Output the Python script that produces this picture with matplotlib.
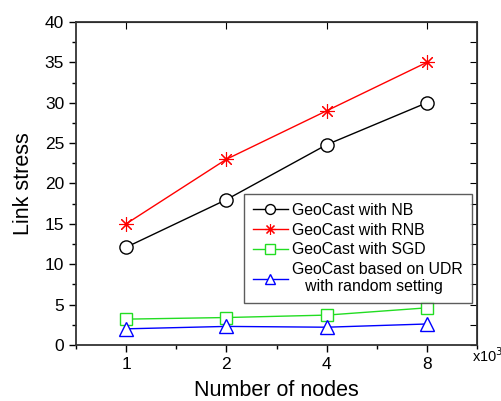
import matplotlib
matplotlib.use('Agg')
import matplotlib.pyplot as plt
from matplotlib.ticker import MultipleLocator

plt.rcParams['font.family'] = ['Liberation Sans', 'DejaVu Sans']

# data
node_labels = ['1', '2', '4', '8']
nb = [12.1, 18.0, 24.8, 30.0]
rnb = [15.0, 23.0, 29.0, 35.0]
sgd = [3.2, 3.4, 3.7, 4.6]
udr = [2.0, 2.3, 2.2, 2.6]

series = [
    ('GeoCast with NB', nb, 'black', 'o', 9.5, 1.0),
    ('GeoCast with RNB', rnb, 'red', (8, 2, 0), 10.5, 0.8),
    ('GeoCast with SGD', sgd, '#22dd22', 's', 9, 1.0),
    ('GeoCast based on UDR\n   with random setting', udr, 'blue', '^', 10, 1.0),
]

fig = plt.figure(figsize=(5.01, 4.01), dpi=100)
ax = fig.add_axes([0.1517, 0.1397, 0.8005, 0.8055])

xs = list(range(1, len(node_labels) + 1))
for label, vals, color, marker, ms, mew in series:
    ax.plot(xs, vals, color=color, lw=1.0, marker=marker, ms=ms,
            mfc='white', mec=color, mew=mew, label=label)

ax.set_xlim(0.5, 4.5)
ax.set_ylim(0, 40)
ax.set_xticks(xs)
ax.set_xticklabels(node_labels)
ax.xaxis.set_minor_locator(MultipleLocator(0.5))
ax.yaxis.set_major_locator(MultipleLocator(5))
ax.yaxis.set_minor_locator(MultipleLocator(2.5))

ax.tick_params(axis='both', which='major', direction='out', length=5,
               width=1, labelsize=12.5, top=False, right=False)
ax.tick_params(axis='both', which='minor', direction='out', length=3, width=1)
for s in ax.spines.values():
    s.set_linewidth(1.3)
    s.set_color('#333333')

# inward ticks on top and right
sec_x = ax.secondary_xaxis('top')
sec_x.set_xticks(xs)
sec_x.tick_params(direction='in', length=5, labeltop=False)
sec_y = ax.secondary_yaxis('right')
sec_y.yaxis.set_major_locator(MultipleLocator(2.5))
sec_y.tick_params(direction='in', length=5, labelright=False)

ax.set_xlabel('Number of nodes', fontsize=15.5, labelpad=6)
ax.set_ylabel('Link stress', fontsize=15.5, labelpad=8)
fig.text(0.942, 0.112, 'x10$^3$', fontsize=10.5, ha='left', va='center')

leg = ax.legend(loc='upper left', bbox_to_anchor=(0.419, 0.467), fontsize=11.4,
                frameon=True, fancybox=False, edgecolor='#333333',
                handlelength=2.2, handletextpad=0.3, borderpad=0.55,
                labelspacing=0.3, borderaxespad=0, markerscale=0.75)
leg.get_frame().set_linewidth(1.0)

fig.savefig('out.png', dpi=100)
